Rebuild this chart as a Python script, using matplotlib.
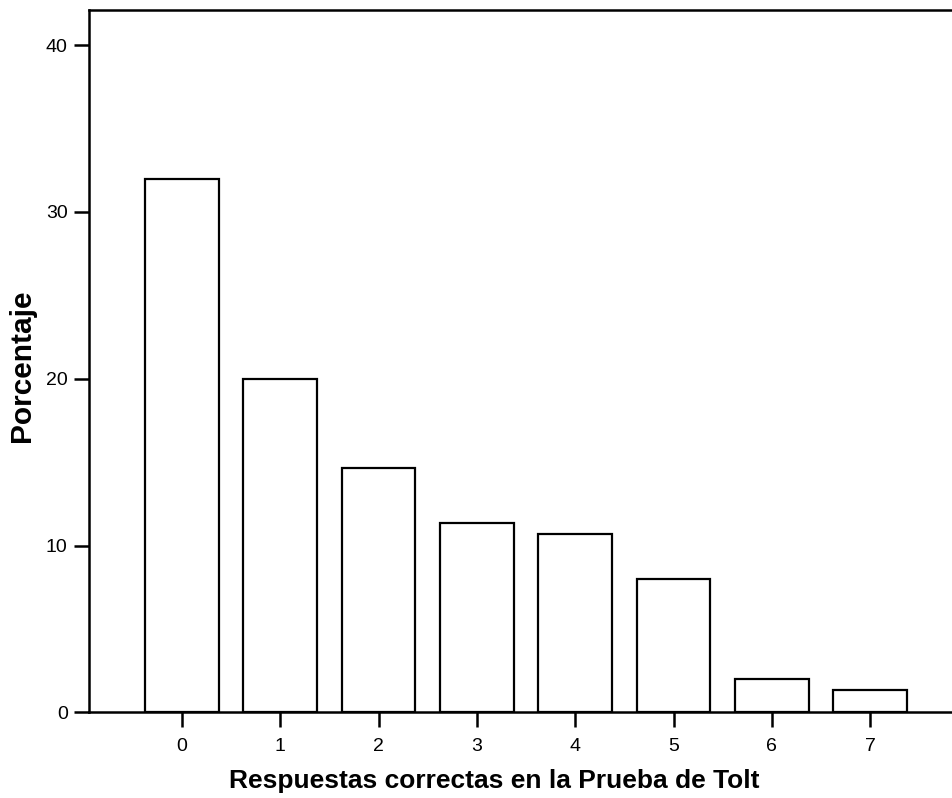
import matplotlib
matplotlib.use("Agg")
import matplotlib.pyplot as plt

# respuestas correctas (0..7) y porcentaje de alumnos
respuestas = [0, 1, 2, 3, 4, 5, 6, 7]
porcentaje = [32.0, 20.0, 14.67, 11.33, 10.67, 8.0, 2.0, 1.33]
yticks = [0, 10, 20, 30, 40]

plt.rcParams['font.family'] = ['Liberation Sans', 'DejaVu Sans']

W, H = 952, 798
fig = plt.figure(figsize=(W / 100, H / 100), dpi=100)
ax = fig.add_axes([88.5 / W, 1 - 712.3 / H, 1 - 88.5 / W, (712.3 - 10.3) / H])

ax.bar(respuestas, porcentaje, width=0.75, facecolor='white',
       edgecolor='black', linewidth=1.6, zorder=3)

ax.set_xlim(-0.951, 7.833)
ax.set_ylim(0, 42.09)
ax.set_xticks(respuestas)
ax.set_yticks(yticks)

for s in ['left', 'bottom', 'top']:
    ax.spines[s].set_linewidth(1.8)
ax.spines['right'].set_visible(False)
ax.tick_params(direction='out', length=11, width=1.8, labelsize=14)
ax.tick_params(axis='x', pad=7.5)
ax.tick_params(axis='y', pad=4)

fig.text(494 / W, 1 - 781 / H, 'Respuestas correctas en la Prueba de Tolt',
         fontsize=19, fontweight='bold', ha='center', va='center')
fig.text(22.5 / W, 1 - 365.5 / H, 'Porcentaje', fontsize=21.5, fontweight='bold',
         rotation=90, ha='center', va='center')

fig.savefig('out.png', dpi=100)
